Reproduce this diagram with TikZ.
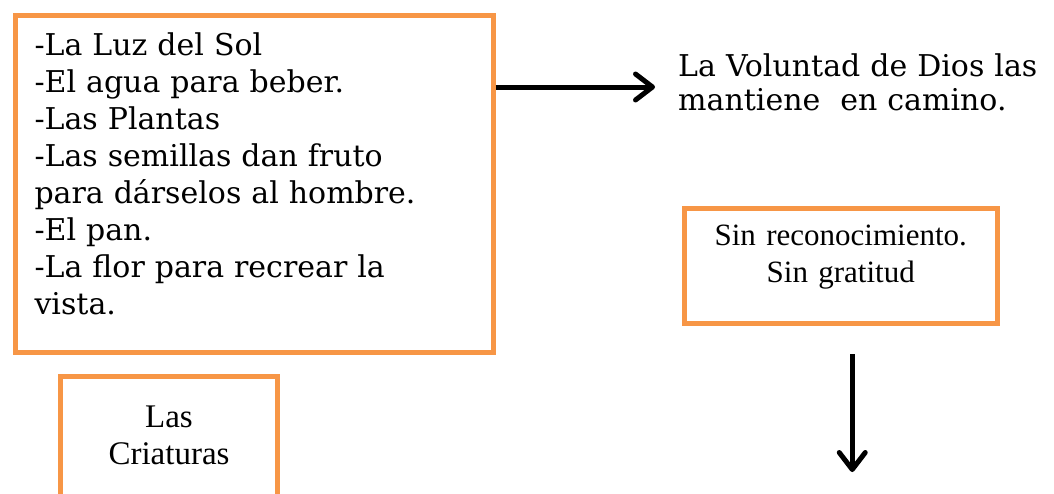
\documentclass[tikz,border=0pt]{standalone}
\usepackage{fontspec}
\setmainfont{Liberation Serif}
\newfontfamily\escuela{DejaVu Serif}
\usetikzlibrary{arrows.meta,positioning}
\definecolor{naranja}{HTML}{F79646}
\tikzset{
    caja/.style ={
        shape=rectangle,
        draw=naranja,
        line width=5pt,
        inner xsep=0pt,
        inner ysep=0pt,
        align=center
    },
    flecha/.style ={
        line width=5pt,
        -{Straight Barb[length=17pt,width=26pt,round]}
    }
}

\begin{document}
\begin{tikzpicture}[x=1pt,y=-1pt]
    \useasboundingbox (0,0) rectangle (1054,493);
    \node[caja,anchor=north west,inner xsep=19.5pt,text width=439pt,align=left,text height=40pt,text depth=296.5pt,font=\escuela\fontsize{30}{37}\selectfont] (luz) at(12.5,13) {-La Luz del Sol\\-El agua para beber.\\-Las Plantas\\-Las semillas dan fruto\\para dárselos al hombre.\\-El pan.\\-La flor para recrear la\\vista.};
    \node[anchor=north west,inner sep=0pt,text width=375pt,align=left,text height=24pt,font=\escuela\fontsize{30}{34}\selectfont] (voluntad) at(678,52) {La Voluntad de Dios las\\mantiene\ \ en camino.};
    \node[caja,anchor=north,text width=313.5pt,text height=37pt,text depth=78pt,font=\fontsize{31}{37}\selectfont] (sin) at(840.75,206) {Sin reconocimiento.\\Sin gratitud};
    \node[caja,anchor=north,text width=217pt,text height=51.5pt,text depth=110pt,font=\fontsize{33}{37}\selectfont] (criaturas) at(169,373.5) {Las\\Criaturas};
    \coordinate (salida) at ([yshift=-74pt]luz.north east);
    \coordinate (bajada) at ([xshift=11.5pt,yshift=-28pt]sin.south);
    \coordinate (fin) at ([xshift=11.5pt,yshift=-146pt]sin.south);
    \draw[flecha,shorten >=23pt] (salida) -- (salida -| voluntad.west);
    \draw[flecha] (bajada) -- (fin);
\end{tikzpicture}
\end{document}
